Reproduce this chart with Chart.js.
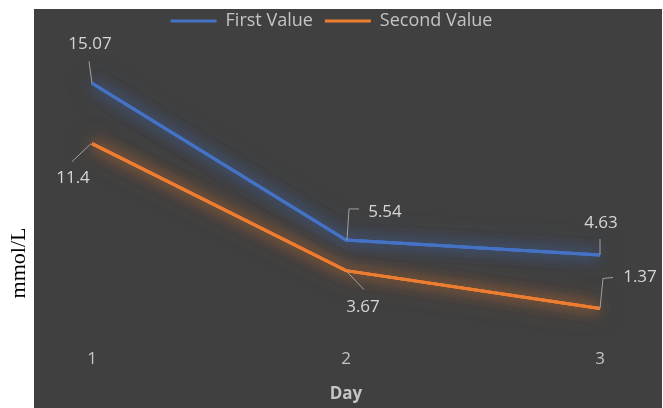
<!DOCTYPE html>
<html><head><meta charset="utf-8">
<script src="https://cdn.jsdelivr.net/npm/chart.js@4/dist/chart.umd.min.js"></script>
<style>html,body{margin:0;padding:0;background:#fff;overflow:hidden}</style>
</head><body>
<canvas id="c" width="663" height="408"></canvas>
<script>
// ---- data ----
const days = ['1', '2', '3'];
const firstValue = [15.07, 5.54, 4.63];
const secondValue = [11.4, 3.67, 1.37];
const seriesNames = ['First Value', 'Second Value'];
const yTitle = 'mmol/L';
const xTitle = 'Day';

// ---- styling ----
const lineColors = ['#4472C4', '#ED7D31'];
const glowColors = ['rgba(68,114,196,0.6)', 'rgba(237,125,49,0.6)'];
const textColor = '#c4c4c4';
const labelColor = '#d6d6d6';
const uiFont = 'Open Sans';
// leader lines & label placement relative to each point (pixels)
const labelLayout = [
  [ {path: [[0,0],[-3,-22]], text: [-2,-39]},
    {path: [[1,0],[3,-31],[13,-31]], text: [39,-28]},
    {path: [[0,0],[0,-16]], text: [1,-32]} ],
  [ {path: [[-1,0],[-20,18]], text: [-19,35]},
    {path: [[0,0],[18,19]], text: [17,36]},
    {path: [[0,0],[3,-30],[13,-31]], text: [40,-31]} ]
];

const bgPlugin = {
  id: 'bg',
  beforeDraw(chart) {
    const ctx = chart.ctx;
    ctx.save();
    ctx.fillStyle = '#ffffff';
    ctx.fillRect(0, 0, chart.width, chart.height);
    ctx.fillStyle = '#404040';
    ctx.fillRect(34, 9, 628, chart.height - 9);
    ctx.restore();
  },
  afterDraw(chart) {
    const ctx = chart.ctx;
    ctx.save();
    ctx.translate(25, 263);
    ctx.rotate(-Math.PI / 2);
    ctx.fillStyle = '#000';
    ctx.font = '22px "Liberation Serif", "Times New Roman", serif';
    ctx.textAlign = 'center';
    ctx.textBaseline = 'alphabetic';
    ctx.fillText(yTitle, 0, 0);
    ctx.restore();
  }
};

const legendPatch = {
  id: 'legendPatch',
  beforeUpdate(chart) {
    const lg = chart.legend;
    if (lg && !lg._patched) {
      const fit = lg.fit;
      lg.fit = function () { fit.call(this); this.height = 68; };
      lg._patched = true;
    }
  }
};

const glowPlugin = {
  id: 'glow',
  beforeDatasetDraw(chart, args) {
    const ctx = chart.ctx;
    ctx.save();
    ctx.shadowColor = glowColors[args.index];
    ctx.shadowOffsetX = 0; ctx.shadowOffsetY = 0;
    ctx.shadowBlur = 26;
    args.meta.dataset.draw(ctx, chart.chartArea);
    ctx.shadowBlur = 14;
    args.meta.dataset.draw(ctx, chart.chartArea);
  },
  afterDatasetDraw(chart) { chart.ctx.restore(); }
};

const labelPlugin = {
  id: 'dataLabels',
  afterDatasetsDraw(chart) {
    const ctx = chart.ctx;
    ctx.save();
    chart.data.datasets.forEach((ds, di) => {
      const meta = chart.getDatasetMeta(di);
      meta.data.forEach((pt, i) => {
        const L = labelLayout[di][i];
        ctx.strokeStyle = '#a0a0a0';
        ctx.lineWidth = 1;
        ctx.beginPath();
        L.path.forEach((p, k) => {
          const x = pt.x + p[0], y = pt.y + p[1];
          if (k === 0) ctx.moveTo(x, y); else ctx.lineTo(x, y);
        });
        ctx.stroke();
        ctx.fillStyle = labelColor;
        ctx.font = '17px "' + uiFont + '"';
        ctx.textAlign = 'center';
        ctx.textBaseline = 'middle';
        ctx.fillText(String(ds.data[i]), pt.x + L.text[0], pt.y + L.text[1]);
      });
    });
    ctx.restore();
  }
};

const hiddenAxis = (pos, w) => ({
  position: pos, display: true,
  grid: {display: false}, border: {display: false},
  ticks: {display: false},
  afterFit(s) { s.width = w; }
});

new Chart(document.getElementById('c'), {
  type: 'line',
  data: {
    labels: days,
    datasets: [
      {label: seriesNames[0], data: firstValue, borderColor: lineColors[0], backgroundColor: lineColors[0],
       borderWidth: 3, pointRadius: 0, tension: 0, fill: false, yAxisID: 'y'},
      {label: seriesNames[1], data: secondValue, borderColor: lineColors[1], backgroundColor: lineColors[1],
       borderWidth: 3, pointRadius: 0, tension: 0, fill: false, yAxisID: 'y'}
    ]
  },
  options: {
    responsive: false,
    animation: false,
    devicePixelRatio: 1,
    layout: {padding: 0},
    plugins: {
      legend: {
        display: true, position: 'top',
        labels: {usePointStyle: true, pointStyle: 'line', pointStyleWidth: 46,
                 color: textColor, font: {family: uiFont, size: 18}, padding: 12}
      },
      tooltip: {enabled: false}
    },
    scales: {
      x: {
        type: 'category', offset: false,
        grid: {display: false}, border: {display: false},
        ticks: {color: textColor, font: {family: uiFont, size: 17}, padding: 10},
        title: {display: true, text: xTitle, color: textColor,
                font: {family: uiFont, size: 17, weight: 'bold'}, padding: {top: 4, bottom: 4}},
        afterFit(s) { s.height = 77; }
      },
      y: Object.assign(hiddenAxis('left', 92), {min: 0, max: 16}),
      y2: hiddenAxis('right', 63)
    }
  },
  plugins: [bgPlugin, legendPatch, glowPlugin, labelPlugin]
});
</script>
</body></html>
